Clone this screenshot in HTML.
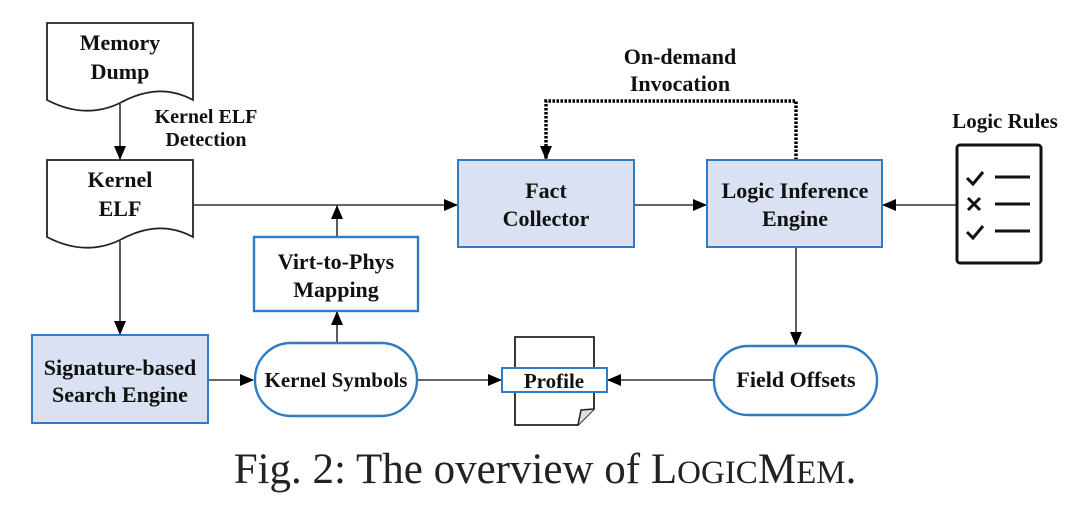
<!DOCTYPE html>
<html><head><meta charset="utf-8"><style>
body{margin:0;background:#fff;}
svg text{font-family:"Liberation Serif",serif;font-weight:bold;font-size:22px;fill:#111;text-anchor:middle;}
</style></head><body>
<svg width="1080" height="501" viewBox="0 0 1080 501" xmlns="http://www.w3.org/2000/svg">
<defs>
<marker id="b" viewBox="0 0 14 12" markerWidth="14" markerHeight="12" refX="13" refY="6" orient="auto" markerUnits="userSpaceOnUse">
<path d="M0,0 L14,6 L0,12 z" fill="#000"/></marker>
</defs>
<g stroke="#222" stroke-width="1.8" fill="#fff">
<path d="M47,23 H193 V100 C165,85 140,92 120,103 C95,115 70,112 47,100 Z"/>
<path d="M47,160 H193 V237 C165,222 140,229 120,240 C95,252 70,249 47,237 Z"/>
</g>
<text x="120" y="50">Memory</text><text x="120" y="79">Dump</text>
<text x="120" y="187">Kernel</text><text x="120" y="216">ELF</text>
<text x="206" y="123" style="font-size:20px">Kernel ELF</text>
<text x="206" y="146" style="font-size:20px">Detection</text>
<g stroke="#333" stroke-width="1.6" fill="none">
<line x1="120" y1="104" x2="120" y2="159" marker-end="url(#b)"/>
<line x1="120" y1="241" x2="120" y2="334" marker-end="url(#b)"/>
<line x1="193" y1="205" x2="457" y2="205" marker-end="url(#b)"/>
<line x1="337" y1="237" x2="337" y2="206" marker-end="url(#b)"/>
<line x1="337" y1="343" x2="337" y2="312" marker-end="url(#b)"/>
<line x1="208" y1="380" x2="253" y2="380" marker-end="url(#b)"/>
<line x1="417" y1="380" x2="501" y2="380" marker-end="url(#b)"/>
<line x1="714" y1="380" x2="608" y2="380" marker-end="url(#b)"/>
<line x1="634" y1="205" x2="706" y2="205" marker-end="url(#b)"/>
<line x1="796" y1="247" x2="796" y2="345" marker-end="url(#b)"/>
<line x1="957" y1="205" x2="883" y2="205" marker-end="url(#b)"/>
<path d="M796,160 V101 H546 V159" stroke="#000" stroke-width="3.5" stroke-dasharray="2.5,1.5" marker-end="url(#b)"/>
</g>
<text x="680" y="64">On-demand</text><text x="680" y="91">Invocation</text>
<g stroke="#2e7dc4" stroke-width="2" fill="#d9e1f2">
<rect x="32" y="335" width="176" height="88"/>
<rect x="458" y="160" width="176" height="87"/>
<rect x="707" y="160" width="175" height="87"/>
</g>
<g stroke="#2e7dc4" stroke-width="2.4" fill="#fff">
<rect x="254" y="237" width="164" height="74"/>
<rect x="255" y="343" width="162" height="73" rx="36"/>
<rect x="714" y="346" width="163" height="69" rx="34"/>
</g>
<text x="120" y="375">Signature-based</text><text x="120" y="402">Search Engine</text>
<text x="546" y="198">Fact</text><text x="546" y="226">Collector</text>
<text x="795" y="198">Logic Inference</text><text x="795" y="226">Engine</text>
<text x="336" y="269">Virt-to-Phys</text><text x="336" y="297">Mapping</text>
<text x="336" y="387" style="font-size:21px">Kernel Symbols</text>
<text x="796" y="387">Field Offsets</text>
<path d="M515,337 H594 V409 L578,425 H515 Z" fill="#fff" stroke="#222" stroke-width="1.8"/>
<path d="M578,425 L581,410 L594,409" fill="#ddd" stroke="#222" stroke-width="1.5"/>
<rect x="502" y="368" width="105" height="24" fill="#fff" stroke="#2e7dc4" stroke-width="2"/>
<text x="554" y="388" style="font-size:21px">Profile</text>
<text x="1005" y="128" style="font-size:21px">Logic Rules</text>
<rect x="957" y="145" width="84" height="118" rx="3" fill="#fff" stroke="#111" stroke-width="3"/>
<g stroke="#111" stroke-width="3" fill="none">
<path d="M967,178 L973,184 L983,172"/>
<line x1="995" y1="177" x2="1030" y2="177"/>
<path d="M968,198 L980,210 M980,198 L968,210"/>
<line x1="995" y1="204" x2="1030" y2="204"/>
<path d="M967,232 L973,238 L983,226"/>
<line x1="995" y1="231" x2="1030" y2="231"/>
</g>
<text x="545" y="483" style="font-weight:normal;font-size:43px;fill:#222">Fig. 2: The overview of L<tspan style="font-size:33px">OGIC</tspan>M<tspan style="font-size:33px">EM</tspan>.</text>
</svg>
</body></html>
